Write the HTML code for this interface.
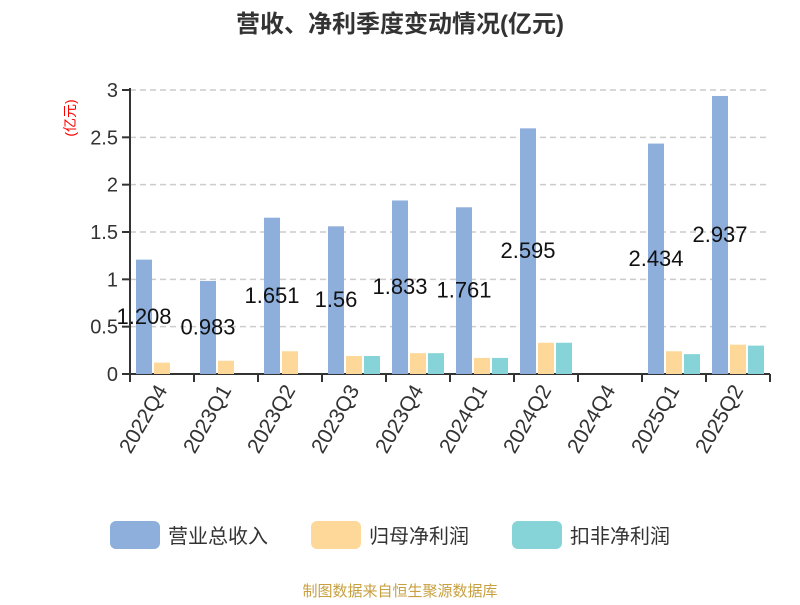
<!DOCTYPE html>
<html><head><meta charset="utf-8"><style>
body{margin:0;background:#fff;}
svg{font-family:"Liberation Sans","Noto Sans CJK SC",sans-serif;}
</style></head><body>
<svg width="800" height="600" viewBox="0 0 800 600" id="c">
<text x="400" y="32" text-anchor="middle" font-size="24" font-weight="bold" fill="#333">营收、净利季度变动情况(亿元)</text>
<text transform="translate(75,118) rotate(-90)" text-anchor="middle" font-size="14" fill="red">(亿元)</text>
<g id="grid"></g><g id="bars"></g><g id="labels"></g>
<g>
<rect x="110" y="521" width="50" height="28" rx="6" fill="#8eaedb"/>
<text x="168" y="543" font-size="20" fill="#333">营业总收入</text>
<rect x="311" y="521" width="50" height="28" rx="6" fill="#fdd898"/>
<text x="369" y="543" font-size="20" fill="#333">归母净利润</text>
<rect x="512" y="521" width="50" height="28" rx="6" fill="#86d4d8"/>
<text x="570" y="543" font-size="20" fill="#333">扣非净利润</text>
</g>
<text x="400" y="596" text-anchor="middle" font-size="15" fill="#c8a040">制图数据来自恒生聚源数据库</text>
</svg>
<script>
const categories=["2022Q4","2023Q1","2023Q2","2023Q3","2023Q4","2024Q1","2024Q2","2024Q4","2025Q1","2025Q2"];
const revenue=[1.208,0.983,1.651,1.56,1.833,1.761,2.595,null,2.434,2.937];
const netProfit=[0.12,0.14,0.24,0.19,0.22,0.17,0.33,null,0.24,0.31];
const deductedProfit=[null,null,null,0.19,0.22,0.17,0.33,null,0.21,0.30];
const yTicks=[0,0.5,1,1.5,2,2.5,3];
const NS="http://www.w3.org/2000/svg";
const X0=130,X1=770,Y0=374,YT=90,YMAX=3;
const band=(X1-X0)/categories.length;
const xc=i=>X0+band*(i+0.5);
const y=v=>Y0-(v/YMAX)*(Y0-YT);
function mk(t,a,p){const e=document.createElementNS(NS,t);for(const k in a)e.setAttribute(k,a[k]);p.appendChild(e);return e;}
const grid=document.getElementById('grid'),bars=document.getElementById('bars'),labels=document.getElementById('labels');
yTicks.forEach(v=>{
 if(v>0){const l=mk('line',{x1:X0,x2:X1,y1:y(v),y2:y(v),stroke:'#ccc','stroke-dasharray':'6,4','stroke-width':1.5},grid);
 
 }
 const tk=mk('line',{x1:X0-8,x2:X0,y1:y(v),y2:y(v),stroke:'#333','stroke-width':2},grid);
 
 
 const t=mk('text',{x:X0-12,y:y(v)+7,'text-anchor':'end','font-size':20,fill:'#333'},grid);t.textContent=v;
 
 
});
const ya=mk('line',{x1:X0,x2:X0,y1:YT-2,y2:Y0,stroke:'#333','stroke-width':2},grid);


const xa=mk('line',{x1:X0,x2:X1,y1:Y0,y2:Y0,stroke:'#333','stroke-width':2},grid);


for(let i=0;i<=categories.length;i++){const tk=mk('line',{x1:X0+band*i,x2:X0+band*i,y1:Y0,y2:Y0+8,stroke:'#333','stroke-width':2},grid);
 
 }
const series=[[revenue,'#8eaedb',-18,'bar-revenue'],[netProfit,'#fdd898',0,'bar-net-profit'],[deductedProfit,'#86d4d8',18,'bar-deducted-profit']];
categories.forEach((c,i)=>{
 series.forEach(([arr,col,off,nm])=>{const v=arr[i];if(v==null)return;
  const r=mk('rect',{x:xc(i)+off-8,y:y(v),width:16,height:Y0-y(v),fill:col},bars);
  
  });
 if(revenue[i]!=null){const t=mk('text',{x:xc(i)-18,y:(y(revenue[i]/2))+7,'text-anchor':'middle','font-size':22,fill:'#111'},labels);t.textContent=revenue[i];
  
  }
 const t=mk('text',{transform:`translate(${xc(i)+6},${Y0+16}) rotate(-60)`,'text-anchor':'end','font-size':21,fill:'#333'},labels);t.textContent=c;
 
 
});
</script>
</body></html>
